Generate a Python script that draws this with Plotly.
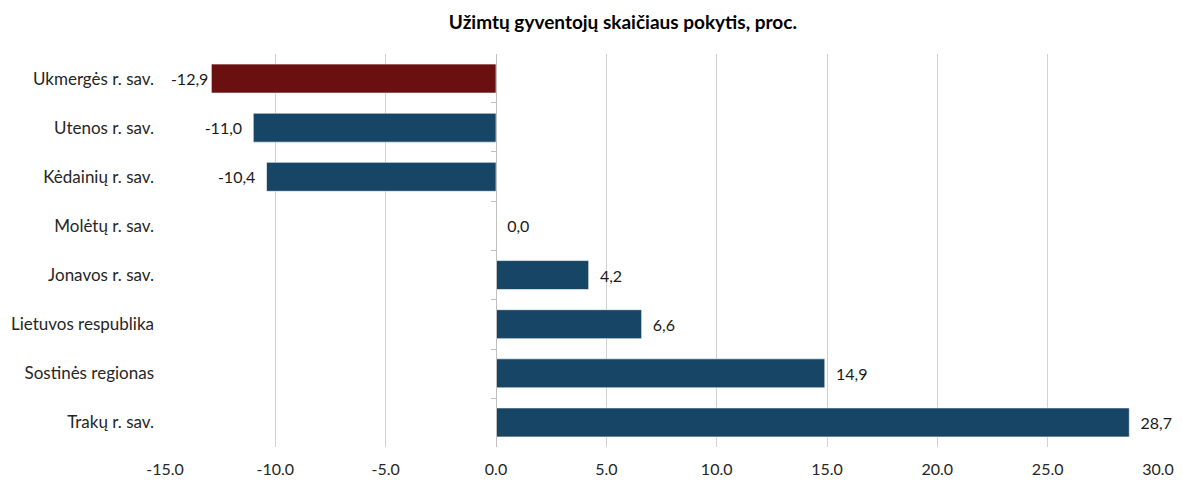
import plotly.graph_objects as go

categories = ["Ukmergės r. sav.", "Utenos r. sav.", "Kėdainių r. sav.", "Molėtų r. sav.",
              "Jonavos r. sav.", "Lietuvos respublika", "Sostinės regionas", "Trakų r. sav."]
values = [-12.9, -11.0, -10.4, 0.0, 4.2, 6.6, 14.9, 28.7]
highlight = "Ukmergės r. sav."
x_ticks = [-15, -10, -5, 0, 5, 10, 15, 20, 25, 30]
x_ticktext = [f"{t:.1f}" for t in x_ticks]

BLUE = "#174566"
RED = "#6B1010"
colors = [RED if c == highlight else BLUE for c in categories]
PAD = "\u00a0\u00a0"


def fmt(v):
    s = f"{v:.1f}".replace(".", ",")
    if v < 0:
        # labels that would run into the axis edge get no extra gap
        return s if v < -12 else s + PAD
    return PAD + s


labels = [fmt(v) for v in values]

FONT = "Lato, Open Sans, sans-serif"

fig = go.Figure()
fig.add_trace(go.Bar(
    y=categories, x=values, orientation="h",
    marker=dict(color=colors, line=dict(color="rgba(255,255,255,0.6)", width=1)),
    text=labels, textposition="outside", cliponaxis=False,
    textfont=dict(family=FONT, size=16, color="#1a1a1a"),
    hoverinfo="x+y",
))
# invisible trace to carry the axis drawn at x = 0
fig.add_trace(go.Scatter(
    y=categories, x=[0] * len(categories), yaxis="y2", mode="markers",
    marker=dict(opacity=0), hoverinfo="skip", showlegend=False,
))

fig.update_layout(
    width=1182, height=481,
    margin=dict(l=165, r=24, t=54, b=34, autoexpand=False),
    paper_bgcolor="white", plot_bgcolor="white",
    showlegend=False, bargap=0.41,
    title=dict(text="<b>Užimtų gyventojų skaičiaus pokytis, proc.</b>",
               x=0.527, xanchor="center", y=0.954, yanchor="middle",
               font=dict(family=FONT, size=19, color="#000000")),
    font=dict(family=FONT, size=16, color="#262626"),
    xaxis=dict(range=[-15, 30], tickvals=x_ticks, ticktext=x_ticktext,
               showgrid=True, gridcolor="#D0D0D0", gridwidth=1,
               zeroline=False, showline=False, ticks="", automargin=False,
               ticklabelstandoff=11, tickfont=dict(size=16, color="#262626")),
    yaxis=dict(categoryorder="array", categoryarray=categories, autorange="reversed",
               showgrid=False, zeroline=False, showline=False, ticks="", automargin=False,
               ticklabelstandoff=10, tickfont=dict(size=17, color="#262626")),
    yaxis2=dict(overlaying="y", anchor="free", position=15 / 45,
                categoryorder="array", categoryarray=categories, autorange="reversed",
                showline=True, linecolor="#BFBFBF", linewidth=1, automargin=False,
                ticks="outside", tickson="boundaries", ticklen=5, tickcolor="#BFBFBF",
                showticklabels=False, showgrid=False, zeroline=False),
)

fig.write_html("out.html", config={"displayModeBar": False},
               post_script="document.body.style.margin='0';document.body.style.overflow='hidden';")
